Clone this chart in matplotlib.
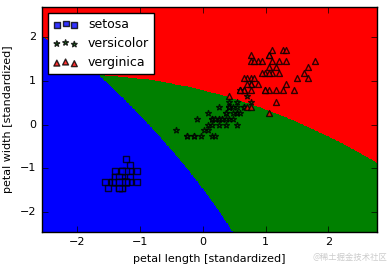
import numpy as np
import matplotlib
matplotlib.use('Agg')
import matplotlib.pyplot as plt

# iris petal measurements (cm), 50 setosa, 50 versicolor, 50 virginica
petal_length = [
    1.4, 1.4, 1.3, 1.5, 1.4, 1.7, 1.4, 1.5, 1.4, 1.5, 1.5, 1.6, 1.4, 1.1, 1.2, 1.5, 1.3, 1.4, 1.7, 1.5,
    1.7, 1.5, 1.0, 1.7, 1.9, 1.6, 1.6, 1.5, 1.4, 1.6, 1.6, 1.5, 1.5, 1.4, 1.5, 1.2, 1.3, 1.4, 1.3, 1.5,
    1.3, 1.3, 1.3, 1.6, 1.9, 1.4, 1.6, 1.4, 1.5, 1.4,
    4.7, 4.5, 4.9, 4.0, 4.6, 4.5, 4.7, 3.3, 4.6, 3.9, 3.5, 4.2, 4.0, 4.7, 3.6, 4.4, 4.5, 4.1, 4.5, 3.9,
    4.8, 4.0, 4.9, 4.7, 4.3, 4.4, 4.8, 5.0, 4.5, 3.5, 3.8, 3.7, 3.9, 5.1, 4.5, 4.5, 4.7, 4.4, 4.1, 4.0,
    4.4, 4.6, 4.0, 3.3, 4.2, 4.2, 4.2, 4.3, 3.0, 4.1,
    6.0, 5.1, 5.9, 5.6, 5.8, 6.6, 4.5, 6.3, 5.8, 6.1, 5.1, 5.3, 5.5, 5.0, 5.1, 5.3, 5.5, 6.7, 6.9, 5.0,
    5.7, 4.9, 6.7, 4.9, 5.7, 6.0, 4.8, 4.9, 5.6, 5.8, 6.1, 6.4, 5.6, 5.1, 5.6, 6.1, 5.6, 5.5, 4.8, 5.4,
    5.6, 5.1, 5.1, 5.9, 5.7, 5.2, 5.0, 5.2, 5.4, 5.1]
petal_width = [
    0.2, 0.2, 0.2, 0.2, 0.2, 0.4, 0.3, 0.2, 0.2, 0.1, 0.2, 0.2, 0.1, 0.1, 0.2, 0.4, 0.4, 0.3, 0.3, 0.3,
    0.2, 0.4, 0.2, 0.5, 0.2, 0.2, 0.4, 0.2, 0.2, 0.2, 0.2, 0.4, 0.1, 0.2, 0.2, 0.2, 0.2, 0.1, 0.2, 0.2,
    0.3, 0.3, 0.2, 0.6, 0.4, 0.3, 0.2, 0.2, 0.2, 0.2,
    1.4, 1.5, 1.5, 1.3, 1.5, 1.3, 1.6, 1.0, 1.3, 1.4, 1.0, 1.5, 1.0, 1.4, 1.3, 1.4, 1.5, 1.0, 1.5, 1.1,
    1.8, 1.3, 1.5, 1.2, 1.3, 1.4, 1.4, 1.7, 1.5, 1.0, 1.1, 1.0, 1.2, 1.6, 1.5, 1.6, 1.5, 1.3, 1.3, 1.3,
    1.2, 1.4, 1.2, 1.0, 1.3, 1.2, 1.3, 1.3, 1.1, 1.3,
    2.5, 1.9, 2.1, 1.8, 2.2, 2.1, 1.7, 1.8, 1.8, 2.5, 2.0, 1.9, 2.1, 2.0, 2.4, 2.3, 1.8, 2.2, 2.3, 1.5,
    2.3, 2.0, 2.0, 1.8, 2.1, 1.8, 1.8, 1.8, 2.1, 1.6, 1.9, 2.0, 2.2, 1.5, 1.4, 2.3, 2.4, 1.8, 1.8, 2.1,
    2.4, 2.3, 1.9, 2.3, 2.5, 2.3, 1.9, 2.0, 2.3, 1.8]
target = [0] * 50 + [1] * 50 + [2] * 50
class_names = ['setosa', 'versicolor', 'verginica']

# decision boundaries (standardized units)
# blue/green: x = a0 + a1*y + a2*y^2 ; green/red: y = b0 + b1*x + b2*x^2
a_coef = [-0.851, -0.652, -0.0431]
b_coef = [0.798, -0.352, -0.0878]
red_weight = 0.23  # sets where blue meets red in the top-left corner

colors = ['blue', 'green', 'red']
markers = ['s', '*', '^']

X = np.column_stack([petal_length, petal_width])
X = (X - X.mean(axis=0)) / X.std(axis=0)
t = np.array(target)


def predict(x1, x2):
    d_blue = (a_coef[0] + a_coef[1] * x2 + a_coef[2] * x2 ** 2) - x1
    d_red = x2 - (b_coef[0] + b_coef[1] * x1 + b_coef[2] * x1 ** 2)
    scores = np.stack([d_blue, np.zeros_like(x1), red_weight * d_red])
    return np.argmax(scores, axis=0)


plt.style.use('classic')
fig = plt.figure(figsize=(3.91, 2.65), dpi=100, facecolor='white')
ax = fig.add_axes([0.107, 0.125, 0.857, 0.85])

resolution = 0.02
x1_min, x1_max = X[:, 0].min() - 1, X[:, 0].max() + 1
x2_min, x2_max = X[:, 1].min() - 1, X[:, 1].max() + 1
xx1, xx2 = np.meshgrid(np.arange(x1_min, x1_max, resolution),
                       np.arange(x2_min, x2_max, resolution))
Z = predict(xx1, xx2)
ax.contourf(xx1, xx2, Z, levels=[-0.5, 0.5, 1.5, 2.5], colors=colors)
ax.set_xlim(xx1.min(), xx1.max())
ax.set_ylim(xx2.min(), xx2.max())

for k, name in enumerate(class_names):
    ax.scatter(X[t == k, 0], X[t == k, 1], c=colors[k], marker=markers[k],
               alpha=0.8, edgecolors='black', s=18, label=name)

ax.set_xlabel('petal length [standardized]', fontsize=8)
ax.set_ylabel('petal width [standardized]', fontsize=8)
ax.tick_params(labelsize=8)
ax.legend(loc='upper left', fontsize=9, scatterpoints=3)

fig.text(0.99, 0.01, '@稀土掘金技术社区', ha='right', va='bottom', fontsize=6,
         color='#cccccc', family=['Noto Sans CJK SC', 'DejaVu Sans'])

fig.savefig('out.png', dpi=100, facecolor='white')
